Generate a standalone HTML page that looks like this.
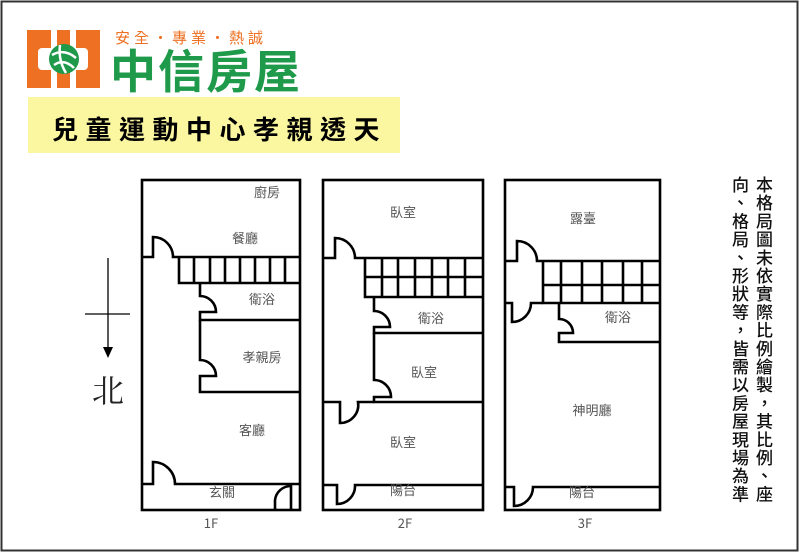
<!DOCTYPE html>
<html><head><meta charset="utf-8"><style>
body{margin:0;background:#fff}
#w{position:relative;width:800px;height:553px;overflow:hidden;font-family:"Liberation Sans","Noto Sans CJK TC",sans-serif}
.vt{position:absolute;writing-mode:vertical-rl;font-size:17px;line-height:24px;letter-spacing:1.2px;color:#111;font-weight:500}
</style></head><body><div id="w">
<svg width="800" height="553" style="position:absolute;left:0;top:0">
<rect x="1.5" y="1.5" width="796" height="549" fill="none" stroke="#333" stroke-width="2"/>
<!-- logo -->
<rect x="27" y="30" width="73" height="58" fill="#ee7022"/>
<rect x="51" y="30" width="6" height="20" fill="#fff"/><rect x="70" y="30" width="6" height="20" fill="#fff"/>
<rect x="51" y="68" width="6" height="20" fill="#fff"/><rect x="70" y="68" width="6" height="20" fill="#fff"/>
<rect x="38" y="48" width="50" height="22" rx="4" fill="#fff"/>
<circle cx="64" cy="59" r="15" fill="#1e9a4a"/>
<path d="M52 55 Q64 48 76 58 M54 65 Q64 58 74 68 M60 45 Q58 60 66 73" stroke="#fff" stroke-width="2.5" fill="none"/>
<rect x="28" y="97" width="372" height="56" fill="#fbf7a0"/>
<text x="115" y="43" font-size="15" fill="#ee7022" letter-spacing="4" font-family="Noto Sans CJK TC">安全・專業・熱誠</text>
<text x="110" y="88" font-size="46" fill="#1e9a4a" font-weight="bold" letter-spacing="2" font-family="Noto Sans CJK TC">中信房屋</text>
<text x="52" y="139" font-size="26" fill="#000" font-weight="bold" letter-spacing="7.5" font-family="Noto Sans CJK TC">兒童運動中心孝親透天</text>
<!-- compass -->
<g stroke="#000" stroke-width="1.3"><line x1="108" y1="258" x2="108" y2="350"/><line x1="85" y1="314" x2="130" y2="314"/></g>
<path d="M103 347 L113 347 L108 358 Z" fill="#000"/>
<text x="92" y="402" font-size="32" fill="#222" font-family="Noto Serif CJK SC">北</text>
<g fill="none" stroke="#000" stroke-width="2.6">
<!-- 1F -->
<rect x="142" y="180" width="158" height="330"/>
<path d="M142 257 H153 V237 A20 20 0 0 1 173 257 H300"/>
<path d="M179 257 V283 H300 M194 257 V283 M210 257 V283 M225 257 V283 M240 257 V283 M255 257 V283 M270 257 V283 M285 257 V283"/>
<path d="M200 283 V296 A16 16 0 0 1 216 312 H200 V320 H300"/>
<path d="M200 320 V360 A16 16 0 0 1 216 376 H200 V392 H300"/>
<path d="M142 484 H153 V462 A22 22 0 0 1 175 484 H300"/>
<path d="M275 510 V500 A16 16 0 0 1 291 486 V510"/>
<!-- 2F -->
<rect x="323" y="180" width="160" height="330"/>
<path d="M323 258 H335 V238 A20 20 0 0 1 355 258 H483"/>
<path d="M365 258 V297 H483 M365 277 H483 M382 258 V297 M398 258 V297 M415 258 V297 M432 258 V297 M448 258 V297 M465 258 V297"/>
<path d="M374 297 V311 A16 16 0 0 1 390 327 H374 V333 H483"/>
<path d="M374 333 V380 A17 17 0 0 1 391 397 H374 V402 H483"/>
<path d="M323 402 H340 V423 A18 18 0 0 0 358 402 H374"/>
<path d="M323 485 H337 V504 A18 18 0 0 0 355 485 H483"/>
<!-- 3F -->
<rect x="505" y="180" width="155" height="330"/>
<path d="M505 261 H517 V241 A20 20 0 0 1 537 261 H660"/>
<path d="M543 261 V303 H660 M543 285 H660 M561 261 V303 M582 261 V303 M602 261 V303 M623 261 V303 M642 261 V303"/>
<path d="M505 303 H512 V322 A19 19 0 0 0 531 303 H543"/>
<path d="M559 303 V319 A14 14 0 0 1 573 333 H559 V342 H660"/>
<path d="M505 487 H514 V506 A19 19 0 0 0 533 487 H660"/>
</g>
<g font-size="13" fill="#555" font-family="Noto Sans CJK TC" text-anchor="middle">
<text x="267" y="197">廚房</text><text x="245" y="243">餐廳</text><text x="262" y="304">衛浴</text>
<text x="262" y="362">孝親房</text><text x="252" y="435">客廳</text><text x="222" y="497">玄關</text><text x="211" y="528">1F</text>
<text x="403" y="217">臥室</text><text x="431" y="323">衛浴</text><text x="424" y="377">臥室</text>
<text x="403" y="447">臥室</text><text x="403" y="495">陽台</text><text x="405" y="528">2F</text>
<text x="583" y="223">露臺</text><text x="618" y="322">衛浴</text><text x="592" y="415">神明廳</text>
<text x="582" y="497">陽台</text><text x="585" y="528">3F</text>
</g>
</svg>
<div class="vt" style="left:726px;top:176px;height:340px;width:48px">本格局圖未依實際比例繪製，其比例、座向、格局、形狀等，皆需以房屋現場為準</div>
</div></body></html>
